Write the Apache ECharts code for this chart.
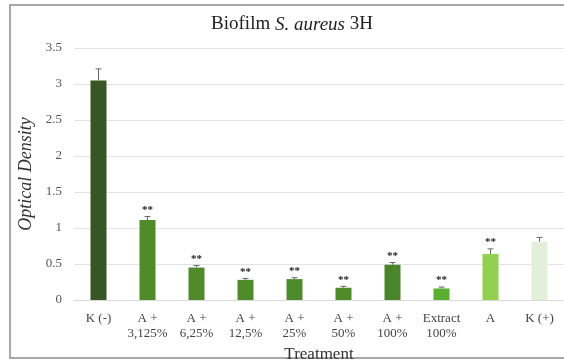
<!DOCTYPE html>
<html>
<head>
<meta charset="utf-8">
<script src="https://cdn.jsdelivr.net/npm/echarts@6/dist/echarts.min.js"></script>
<style>
  html, body { margin: 0; padding: 0; background: #fff; }
  #chart { width: 564px; height: 362px; }
</style>
</head>
<body>
<div id="chart"></div>
<script>
// Treatment groups and measured optical density (mean ± error)
const categories = ['K (-)', 'A +\n3,125%', 'A +\n6,25%', 'A +\n12,5%', 'A +\n25%', 'A +\n50%', 'A +\n100%', 'Extract\n100%', 'A', 'K (+)'];
const means = [3.05, 1.11, 0.45, 0.28, 0.29, 0.17, 0.49, 0.16, 0.64, 0.81];
const errors = [0.16, 0.05, 0.03, 0.02, 0.02, 0.02, 0.03, 0.02, 0.07, 0.06];
const significance = ['', '**', '**', '**', '**', '**', '**', '**', '**', ''];
const barColors = ['#375623', '#4f8a2b', '#4f8a2b', '#4f8a2b', '#4f8a2b', '#4f8a2b', '#4a852b', '#5cae2e', '#92d050', '#e2efd9'];
const yTicks = [0, 0.5, 1, 1.5, 2, 2.5, 3, 3.5];

const chart = echarts.init(document.getElementById('chart'), null, { renderer: 'canvas' });
const serif = 'Liberation Serif, Times New Roman, serif';

chart.setOption({
  backgroundColor: '#fff',
  animation: false,
  title: {
    text: '{n|Biofilm }{i|S. aureus}{n| 3H}',
    left: 287,
    textAlign: 'center',
    top: 10,
    textStyle: {
      fontWeight: 'normal',
      rich: {
        n: { fontFamily: serif, fontSize: 19, color: '#222', fontWeight: 'normal' },
        i: { fontFamily: serif, fontSize: 19, color: '#222', fontStyle: 'italic', fontWeight: 'normal' }
      }
    }
  },
  graphic: [{
    type: 'rect',
    shape: { x: 10, y: 5, width: 570, height: 353 },
    style: { fill: 'none', stroke: '#8c8c8c', lineWidth: 1.5 },
    silent: true
  }],
  grid: { left: 74, right: 0, top: 48, bottom: 62, outerBoundsMode: 'none', containLabel: false },
  xAxis: {
    type: 'category',
    data: categories,
    name: 'Treatment',
    nameLocation: 'middle',
    nameGap: 41,
    nameTextStyle: { fontFamily: serif, fontSize: 17, color: '#333' },
    axisLine: { show: true, lineStyle: { color: '#d9d9d9' } },
    axisTick: { show: false },
    axisLabel: { fontFamily: serif, fontSize: 13, color: '#444', lineHeight: 15, interval: 0, margin: 11 }
  },
  yAxis: {
    type: 'value',
    min: 0,
    max: 3.5,
    interval: 0.5,
    name: 'Optical Density',
    nameLocation: 'middle',
    nameGap: 33,
    nameTextStyle: { fontFamily: serif, fontSize: 18, color: '#333', fontStyle: 'italic' },
    axisLine: { show: false },
    axisTick: { show: false },
    splitLine: { lineStyle: { color: '#e3e3e3' } },
    axisLabel: {
      fontFamily: serif, fontSize: 13, color: '#555', margin: 12,
      formatter: v => yTicks.includes(v) ? String(v) : ''
    }
  },
  series: [
    {
      type: 'bar',
      barWidth: 16,
      data: means.map((v, i) => ({ value: v, itemStyle: { color: barColors[i] } })),
      z: 2
    },
    {
      type: 'custom',
      z: 3,
      data: means.map((v, i) => [i, v, errors[i], significance[i]]),
      renderItem: function (params, api) {
        const x = api.value(0);
        const m = api.value(1);
        const e = api.value(2);
        const mark = significance[params.dataIndex];
        const top = api.coord([x, m + e]);
        const mid = api.coord([x, m]);
        const cap = 3;
        const children = [
          { type: 'line', shape: { x1: top[0], y1: top[1], x2: top[0], y2: mid[1] }, style: { stroke: '#666', lineWidth: 1 } },
          { type: 'line', shape: { x1: top[0] - cap, y1: top[1], x2: top[0] + cap, y2: top[1] }, style: { stroke: '#666', lineWidth: 1 } }
        ];
        if (mark) {
          children.push({
            type: 'text',
            style: {
              text: mark, x: top[0], y: top[1] - 1,
              align: 'center', verticalAlign: 'bottom',
              font: 'bold 11px ' + serif, fill: '#222'
            }
          });
        }
        return { type: 'group', children: children };
      }
    }
  ]
});
</script>
</body>
</html>
